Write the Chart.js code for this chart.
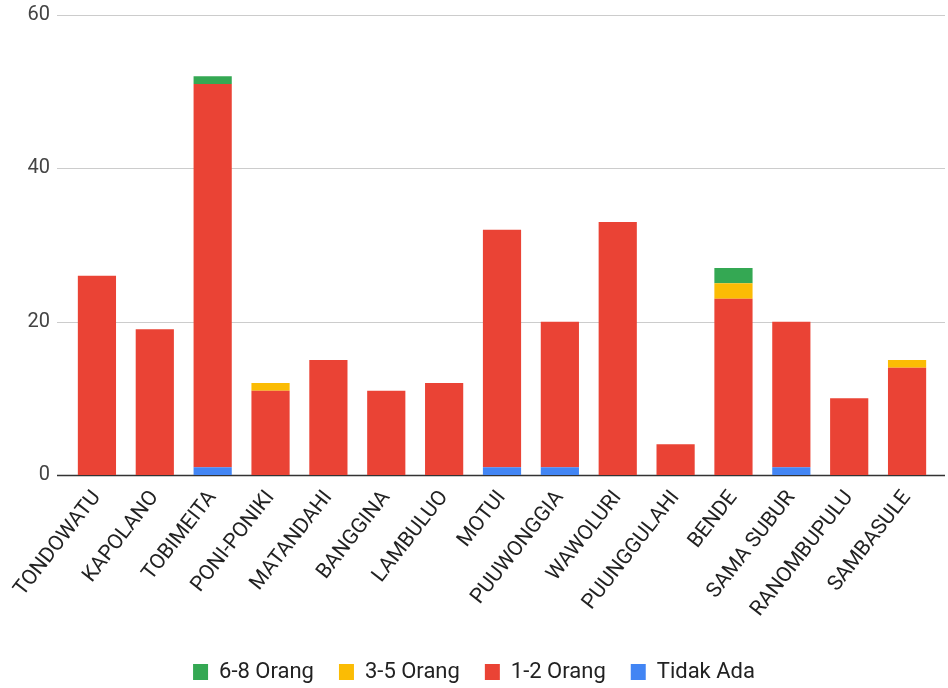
<!DOCTYPE html>
<html>
<head>
<meta charset="utf-8">
<script src="https://cdn.jsdelivr.net/npm/chart.js@4.4.1/dist/chart.umd.min.js"></script>
<style>
  html, body { margin: 0; padding: 0; background: #fff; }
  #wrap { width: 948px; height: 688px; }
</style>
</head>
<body>
<div id="wrap"><canvas id="myChart" width="948" height="688"></canvas></div>
<script>
// data
const desa = ['TONDOWATU', 'KAPOLANO', 'TOBIMEITA', 'PONI-PONIKI', 'MATANDAHI', 'BANGGINA', 'LAMBULUO',
  'MOTUI', 'PUUWONGGIA', 'WAWOLURI', 'PUUNGGULAHI', 'BENDE', 'SAMA SUBUR', 'RANOMBUPULU', 'SAMBASULE'];
const tidakAda    = [0, 0, 1, 0, 0, 0, 0, 1, 1, 0, 0, 0, 1, 0, 0];
const satuDua     = [26, 19, 50, 11, 15, 11, 12, 31, 19, 33, 4, 23, 19, 10, 14];
const tigaLima    = [0, 0, 0, 1, 0, 0, 0, 0, 0, 0, 0, 2, 0, 0, 1];
const enamDelapan = [0, 0, 1, 0, 0, 0, 0, 0, 0, 0, 0, 2, 0, 0, 0];
const yTicks = [0, 20, 40, 60];

// google-chart style gridlines that run a bit past the plot area
const gridPlugin = {
  id: 'grid',
  beforeDatasetsDraw(chart) {
    const { ctx, chartArea, scales } = chart;
    ctx.save();
    yTicks.forEach(v => {
      const y = Math.round(scales.y.getPixelForValue(v)) + 0.5;
      ctx.strokeStyle = v === 0 ? '#333' : '#ccc';
      ctx.lineWidth = v === 0 ? 1.5 : 1;
      ctx.beginPath();
      ctx.moveTo(chartArea.left - 11, y);
      ctx.lineTo(chartArea.right + 9, y);
      ctx.stroke();
    });
    ctx.restore();
  }
};

const ctx = document.getElementById('myChart');
new Chart(ctx, {
  type: 'bar',
  data: {
    labels: desa,
    datasets: [
      { label: 'Tidak Ada', data: tidakAda, backgroundColor: '#4285f4' },
      { label: '1-2 Orang', data: satuDua, backgroundColor: '#ea4335' },
      { label: '3-5 Orang', data: tigaLima, backgroundColor: '#fbbc04' },
      { label: '6-8 Orang', data: enamDelapan, backgroundColor: '#34a853' }
    ]
  },
  options: {
    responsive: false,
    animation: false,
    datasets: { bar: { categoryPercentage: 1, barPercentage: 0.66 } },
    layout: { padding: { top: 15, left: 12, right: 12, bottom: -5 } },
    plugins: {
      tooltip: { enabled: false },
      legend: {
        position: 'bottom',
        reverse: true,
        labels: {
          boxWidth: 15,
          boxHeight: 16,
          padding: 25,
          color: '#222',
          font: { family: 'Roboto', size: 22 }
        }
      }
    },
    scales: {
      x: {
        stacked: true,
        grid: { display: false },
        border: { display: false },
        ticks: {
          autoSkip: false,
          minRotation: 52,
          maxRotation: 52,
          color: '#222',
          font: { family: 'Roboto', size: 21 }
        },
        afterFit(scale) {
          scale.height = scale.chart.height - scale.chart.legend.height - 475 + 5;
        }
      },
      y: {
        stacked: true,
        min: 0,
        max: 60,
        grid: { display: false },
        border: { display: false },
        ticks: {
          stepSize: 20,
          padding: 10,
          color: '#444',
          font: { family: 'Roboto', size: 20 }
        },
        afterFit(scale) {
          scale.width = 56;
          scale.paddingTop = 0;
          scale.paddingBottom = 0;
        }
      }
    }
  },
  plugins: [gridPlugin]
});
</script>
</body>
</html>
